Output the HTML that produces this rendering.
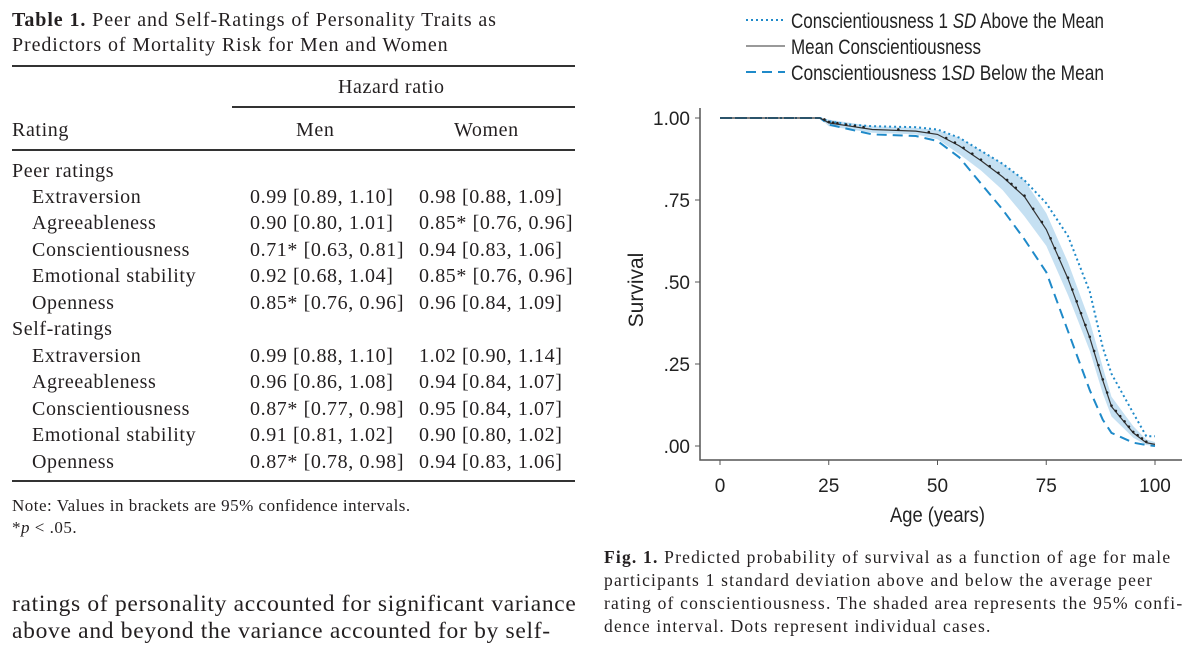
<!DOCTYPE html>
<html><head><meta charset="utf-8">
<style>
body{margin:0;width:1200px;height:647px;background:#fff;position:relative;overflow:hidden;font-family:"Liberation Serif",serif;color:#231f20}
.t{position:absolute;white-space:nowrap;font-size:20px;letter-spacing:0.6px;line-height:1}
.rule{position:absolute;height:1.5px;background:#333}
.cap{position:absolute;left:604px;font-size:17.5px;letter-spacing:1.2px;white-space:nowrap;line-height:1}
</style></head><body>
<div class="t" style="left:12px;top:10px;letter-spacing:0.9px"><b>Table 1.</b> Peer and Self-Ratings of Personality Traits as</div>
<div class="t" style="left:12px;top:35px;letter-spacing:0.9px">Predictors of Mortality Risk for Men and Women</div>
<div class="rule" style="left:12px;width:563px;top:65px"></div>
<div class="t" style="left:338px;top:77px">Hazard ratio</div>
<div class="rule" style="left:232px;width:343px;top:106px"></div>
<div class="t" style="left:12px;top:120px">Rating</div>
<div class="t" style="left:296px;top:120px">Men</div>
<div class="t" style="left:454px;top:120px">Women</div>
<div class="rule" style="left:12px;width:563px;top:149px"></div>
<div id="rows"></div>
<div class="rule" style="left:12px;width:563px;top:480px"></div>
<div class="t" style="left:12px;top:497px;font-size:17px;letter-spacing:0.5px">Note: Values in brackets are 95% confidence intervals.</div>
<div class="t" style="left:12px;top:519px;font-size:17px;letter-spacing:0.5px">*<i>p</i> &lt; .05.</div>
<div class="t" style="left:12px;top:593px;font-size:23.5px;letter-spacing:0.7px">ratings of personality accounted for significant variance</div>
<div class="t" style="left:12px;top:620px;font-size:23.5px;letter-spacing:0.7px">above and beyond the variance accounted for by self-</div>

<div class="cap" style="top:549px"><b>Fig. 1.</b> Predicted probability of survival as a function of age for male</div>
<div class="cap" style="top:572px">participants 1 standard deviation above and below the average peer</div>
<div class="cap" style="top:595px">rating of conscientiousness. The shaded area represents the 95% confi-</div>
<div class="cap" style="top:618px">dence interval. Dots represent individual cases.</div>

<svg id="chart" width="1200" height="647" style="position:absolute;left:0;top:0" font-family="Liberation Sans, sans-serif"></svg>
<script>
const tableLabels=["Peer ratings","Extraversion","Agreeableness","Conscientiousness","Emotional stability","Openness","Self-ratings","Extraversion","Agreeableness","Conscientiousness","Emotional stability","Openness"];
const menVals=["","0.99 [0.89, 1.10]","0.90 [0.80, 1.01]","0.71* [0.63, 0.81]","0.92 [0.68, 1.04]","0.85* [0.76, 0.96]","","0.99 [0.88, 1.10]","0.96 [0.86, 1.08]","0.87* [0.77, 0.98]","0.91 [0.81, 1.02]","0.87* [0.78, 0.98]"];
const womenVals=["","0.98 [0.88, 1.09]","0.85* [0.76, 0.96]","0.94 [0.83, 1.06]","0.85* [0.76, 0.96]","0.96 [0.84, 1.09]","","1.02 [0.90, 1.14]","0.94 [0.84, 1.07]","0.95 [0.84, 1.07]","0.90 [0.80, 1.02]","0.94 [0.83, 1.06]"];
const rowTops=[161,187,213,240,266,293,319,346,372,399,425,452];
const rows=document.getElementById('rows');
tableLabels.forEach((l,i)=>{
  const indent=(i===0||i===6)?12:32;
  const a=document.createElement('div');a.className='t';a.style.left=indent+'px';a.style.top=rowTops[i]+'px';a.textContent=l;
  
  
  rows.appendChild(a);
  if(menVals[i]){
    const m=document.createElement('div');m.className='t';m.style.left='250px';m.style.top=rowTops[i]+'px';m.textContent=menVals[i];
    
    
    rows.appendChild(m);
    const w=document.createElement('div');w.className='t';w.style.left='419px';w.style.top=rowTops[i]+'px';w.textContent=womenVals[i];
    
    
    rows.appendChild(w);
  }
});

// chart data
const ages=[0,23,25,30,35,45,50,55,60,65,70,75,80,85,88,90,95,98,100];
const meanS=[1,1,0.985,0.975,0.965,0.96,0.95,0.915,0.87,0.82,0.76,0.66,0.51,0.33,0.2,0.12,0.04,0.01,0.005];
const aboveS=[1,1,0.99,0.98,0.975,0.972,0.965,0.94,0.9,0.86,0.81,0.74,0.64,0.47,0.3,0.22,0.1,0.03,0.03];
const belowS=[1,1,0.98,0.965,0.95,0.945,0.93,0.88,0.8,0.72,0.63,0.53,0.35,0.17,0.08,0.04,0.01,0.003,0];
const bandLo=[1,1,0.975,0.965,0.955,0.95,0.935,0.89,0.84,0.78,0.7,0.61,0.46,0.29,0.16,0.09,0.025,0.003,0];
const bandHi=[1,1,0.995,0.985,0.975,0.97,0.963,0.94,0.9,0.86,0.81,0.71,0.56,0.38,0.24,0.15,0.06,0.02,0.012];
const caseAges=[24,25,26,27,29,31,33,41,48,52,54,56,58,60,62,64,66,67,68,70,72,74,76,77,78,80,81,82,83,84,85,86,87,88,89,90,91,92,93,94,95,96,97,98];
const xTicks=[0,25,50,75,100];
const yTicks=[0,0.25,0.5,0.75,1];
const yTickLabels=[".00",".25",".50",".75","1.00"];

const X=v=>720+v*4.35;
const Y=v=>446-v*328;
const svg=document.getElementById('chart');
const NS='http://www.w3.org/2000/svg';
function mk(t,at){const e=document.createElementNS(NS,t);for(const k in at)e.setAttribute(k,at[k]);svg.appendChild(e);return e;}
function interp(arr,a){for(let i=1;i<ages.length;i++){if(a<=ages[i]){const f=(a-ages[i-1])/(ages[i]-ages[i-1]);return arr[i-1]+f*(arr[i]-arr[i-1]);}}return arr[arr.length-1];}
function pts(arr){return ages.map((a,i)=>X(a).toFixed(1)+','+Y(arr[i]).toFixed(1)).join(' ');}

let band=mk('polygon',{points:pts(bandHi)+' '+ages.slice().reverse().map((a,j)=>X(a).toFixed(1)+','+Y(bandLo[ages.length-1-j]).toFixed(1)).join(' '),fill:'#c5e0f2',stroke:'none'});


let l1=mk('polyline',{points:pts(aboveS),fill:'none',stroke:'#1f8ac9','stroke-width':2,'stroke-dasharray':'2,3'});


let l3=mk('polyline',{points:pts(belowS),fill:'none',stroke:'#1f8ac9','stroke-width':2,'stroke-dasharray':'10,6'});


let l2=mk('polyline',{points:pts(meanS),fill:'none',stroke:'#333','stroke-width':1.2});


caseAges.forEach(a=>{
  const d=mk('circle',{cx:X(a),cy:Y(interp(meanS,a))-1,r:1.3,fill:'#222'});
  
  
});
let ax=mk('path',{d:'M700,108 V460 H1182',fill:'none',stroke:'#555','stroke-width':1.5});


xTicks.forEach(v=>{
  mk('line',{x1:X(v),x2:X(v),y1:460,y2:465,stroke:'#555'});
  const t=mk('text',{x:X(v),y:492,'font-size':19,'text-anchor':'middle',fill:'#222'});t.textContent=v;
  
  
});
yTicks.forEach((v,i)=>{
  mk('line',{x1:695,x2:700,y1:Y(v),y2:Y(v),stroke:'#555'});
  const t=mk('text',{x:690,y:Y(v)+7,'font-size':19,'text-anchor':'end',fill:'#222'});t.textContent=yTickLabels[i];
  
  
});
let xt=mk('text',{x:890,y:522,'font-size':21,fill:'#222',textLength:95,lengthAdjust:'spacingAndGlyphs'});xt.textContent='Age (years)';


let yt=mk('text',{x:643,y:290,'font-size':21,'text-anchor':'middle',fill:'#222',transform:'rotate(-90 643 290)'});yt.textContent='Survival';


const legend=[['Conscientiousness 1 ','SD',' Above the Mean','2,3','#1f8ac9',313],['Mean Conscientiousness','','','','#333',190],['Conscientiousness 1','SD','  Below the Mean','10,6','#1f8ac9',313]];
legend.forEach((r,i)=>{
  const y=21+i*26;
  mk('line',{x1:746,x2:785,y1:y-1,y2:y-1,stroke:r[4],'stroke-width':r[3]?2:1,'stroke-dasharray':r[3]||'none'});
  const t=mk('text',{x:791,y:y+7,'font-size':21,fill:'#222','xml:space':'preserve',textLength:r[5],lengthAdjust:'spacingAndGlyphs'});
  t.innerHTML=r[0]+(r[1]?'<tspan font-style="italic">'+r[1]+'</tspan>'+r[2]:'');
  
  
});
</script>
</body></html>
